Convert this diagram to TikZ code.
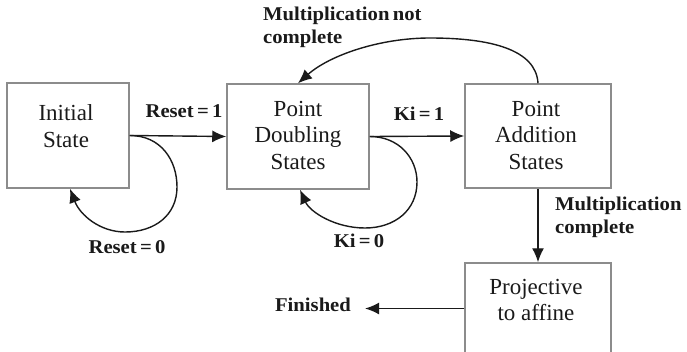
\documentclass[tikz,border=0pt]{standalone}
\usepackage{fontspec}
\setmainfont{Liberation Serif}
\newfontfamily\edgefont[FakeStretch=1.06]{Liberation Serif}
\usetikzlibrary{arrows.meta,calc}

\definecolor{boxgray}{HTML}{8C8C8C}
\definecolor{ink}{HTML}{1A1A1A}

\tikzset{
  statebox/.style={draw=boxgray, line width=1.5pt, rectangle, inner sep=0pt},
  statetext/.style={align=center, inner sep=0pt, text=ink,
    font=\fontsize{23}{26.5}\selectfont},
  edgelabel/.style={inner sep=0pt, text=ink,
    font=\edgefont\bfseries\fontsize{19.5}{23}\selectfont},
  arr/.style={draw=ink, line width=1.4pt,
    -{Latex[length=14pt,width=12pt]}},
}

\begin{document}
\begin{tikzpicture}[x=1pt,y=-1pt]
  \useasboundingbox (0,0) rectangle (687,351);
  \clip (0,0) rectangle (687,351);

  % state boxes
  \node[statebox, minimum width=122pt, minimum height=105pt] (init) at (68,135.5) {};
  \node[statebox, minimum width=142pt, minimum height=105pt] (dbl)  at (298,136.5) {};
  \node[statebox, minimum width=146pt, minimum height=104pt] (add)  at (538,136) {};
  \node[statebox, minimum width=146pt, minimum height=91pt]  (proj) at (538,308.5) {};

  % state names
  \node[statetext] (initT) at (66,126)  {Initial\\State};
  \node[statetext] (dblT)  at (298,135) {Point\\Doubling\\States};
  \node[statetext] (addT)  at (536,135) {Point\\Addition\\States};
  \node[statetext] (projT) at (536,300) {Projective\\to affine};

  % transition conditions
  \node[edgelabel] (lReset1) at (184,111) {Reset\,=\,1};
  \node[edgelabel] (lReset0) at (127,247) {Reset\,=\,0};
  \node[edgelabel] (lKi1)    at (419,114) {Ki\,=\,1};
  \node[edgelabel] (lKi0)    at (359,241) {Ki\,=\,0};
  \node[edgelabel, anchor=north west, align=left] (lNot) at (263,7)
    {Multiplication\,not\\complete};
  \node[edgelabel, anchor=north west, align=left] (lDone) at (555,197)
    {Multiplication\\complete};
  \node[edgelabel] (fin) at (313,305) {Finished};

  % transitions
  \draw[arr] (init.east) -- (dbl.west);
  \draw[arr] (dbl.east) -- (add.west);
  \draw[arr] (add.south) -- (proj.north);
  \draw[arr, shorten >=14pt] (proj.west) -- (proj.west -| fin.east);

  % self loops
  \draw[arr] (init.east)
    .. controls +(31,0) and (177,160) .. (177,187)
    .. controls (177,215) and (155,232) .. (125,232)
    .. controls (100,232) and (80,215) .. ($(init.south)+(2,0)$);
  \draw[arr] (dbl.east)
    .. controls +(29,0) and (417,158) .. (417,182)
    .. controls (417,210) and (395,228) .. (365,228)
    .. controls (335,228) and (310,212) .. ($(dbl.south)+(2,0)$);

  % back to doubling
  \draw[arr] (add.north)
    .. controls +(-2,-34) and (490,38) .. (430,38)
    .. controls (380,38) and (330,55) .. (dbl.north);
\end{tikzpicture}
\end{document}
